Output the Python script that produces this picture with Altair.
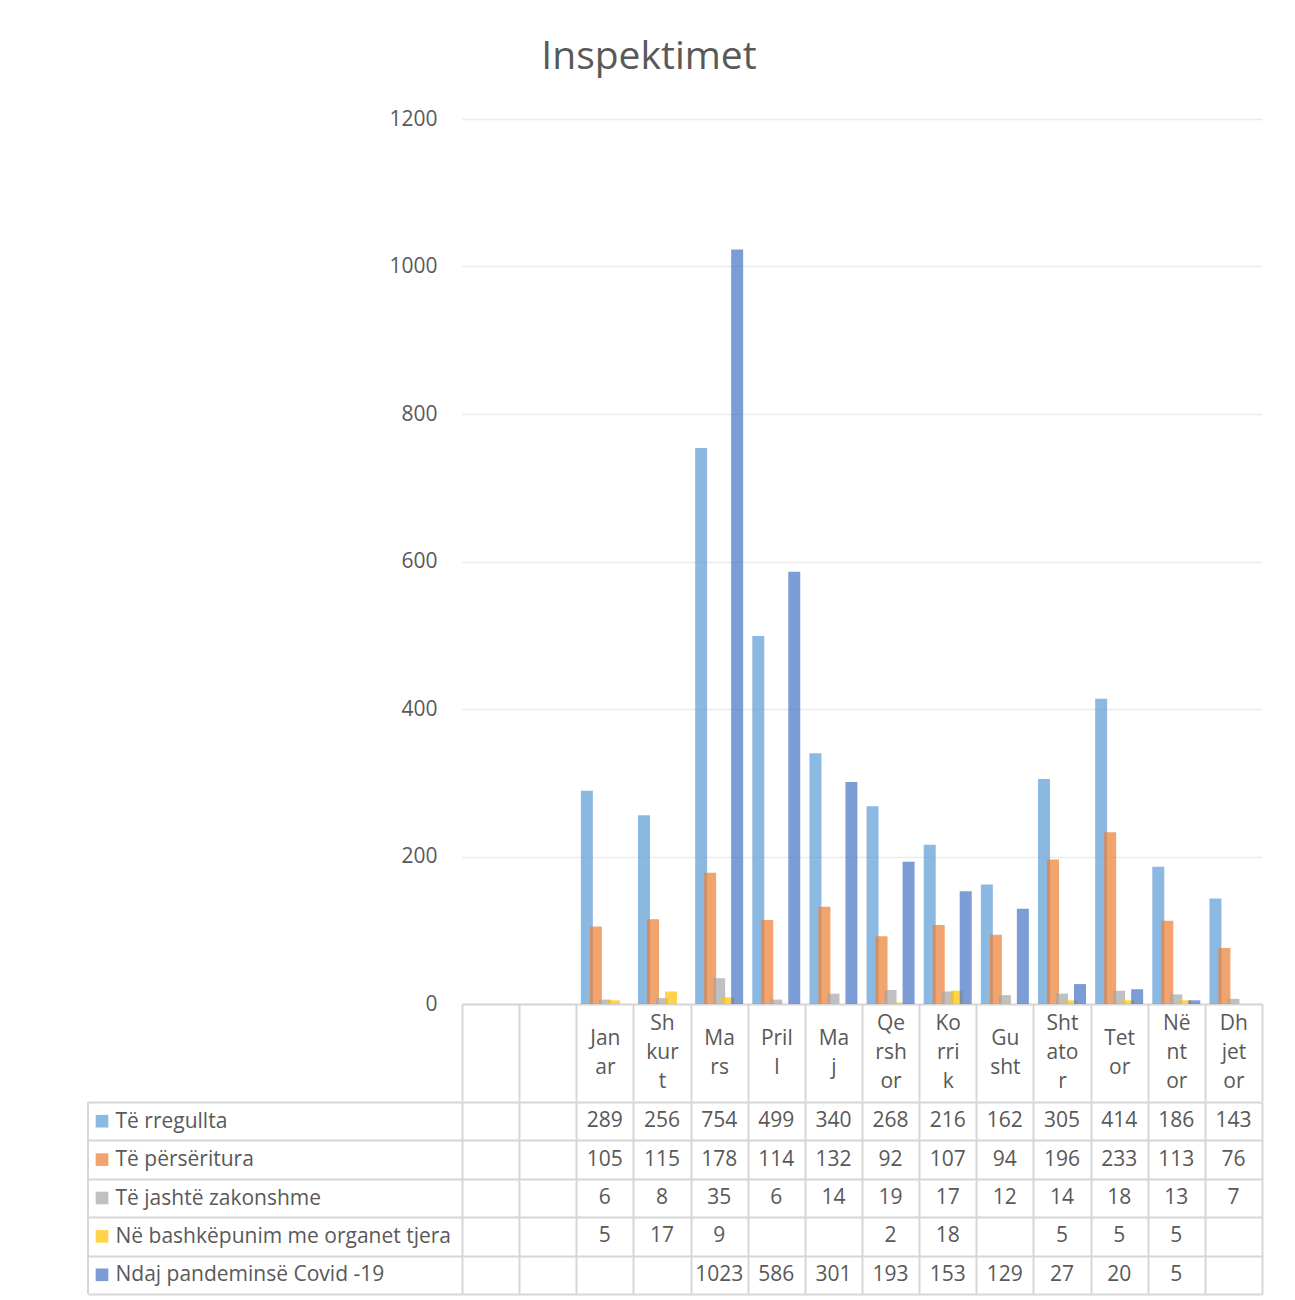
import json
import altair as alt
import pandas as pd

# ---- data ----
categories = [" ", "  ", "Janar", "Shkurt", "Mars", "Prill", "Maj", "Qershor",
              "Korrik", "Gusht", "Shtator", "Tetor", "Nëntor", "Dhjetor"]
header_labels = ["", "", "Jan|ar", "Sh|kur|t", "Ma|rs", "Pril|l", "Ma|j", "Qe|rsh|or",
                 "Ko|rri|k", "Gu|sht", "Sht|ato|r", "Tet|or", "Në|nt|or", "Dh|jet|or"]
months = categories[2:]
series = ["Të rregullta", "Të përsëritura", "Të jashtë zakonshme",
          "Në bashkëpunim me organet tjera", "Ndaj pandeminsë Covid -19"]
te_rregullta = [289, 256, 754, 499, 340, 268, 216, 162, 305, 414, 186, 143]
te_perseritura = [105, 115, 178, 114, 132, 92, 107, 94, 196, 233, 113, 76]
te_jashte = [6, 8, 35, 6, 14, 19, 17, 12, 14, 18, 13, 7]
ne_bashkepunim = [5, 17, 9, None, None, 2, 18, None, 5, 5, 5, None]
covid = [None, None, 1023, 586, 301, 193, 153, 129, 27, 20, 5, None]
y_ticks = [0, 200, 400, 600, 800, 1000, 1200]
colors = ["#5B9BD5", "#ED7D31", "#A5A5A5", "#FFC000", "#4472C4"]

values_by_series = [te_rregullta, te_perseritura, te_jashte, ne_bashkepunim, covid]
rows = []
for s, vals in zip(series, values_by_series):
    for m, v in zip(months, vals):
        if v is not None:
            rows.append({"series": s, "month": m, "value": v})
df = pd.DataFrame(rows)
legend_df = pd.DataFrame({"series": series})

# ---- styles ----
FONT = "Open Sans"
TXT = "#595959"
LINE = "#D6D6D6"
GRID = "#EBEBEB"
FS = 21
PLOT_W = 800
BAND = PLOT_W / len(categories)          # width of one category column
SLOT = 9                                 # offset step per series inside a column
BAR_BAND = 4 / 3                         # bars 4/3 of a slot wide (Excel-style overlap)
# Vega-Lite centres a >1 relative band on the category bandwidth; compensate so that
# the group of bars sits centred in its column as in the reference
GROUP = SLOT * len(series)
SHIFT = (BAND - GROUP) / 2 + (BAR_BAND - 1) / 2 * (BAND - SLOT)

mapping = json.dumps(dict(zip(categories, header_labels)), ensure_ascii=False)
label_expr = "split((" + mapping + ")[datum.value] || '', '|')"
two_line = [c for c, h in zip(categories, header_labels) if h.count("|") == 1]
two_line_test = "indexof(" + json.dumps(two_line, ensure_ascii=False) + ", datum.value) >= 0"

color_scale = alt.Scale(domain=series, range=colors)

bars = alt.Chart(df).mark_bar(opacity=0.7, width=alt.RelativeBandSize(BAR_BAND)).encode(
    x=alt.X("month:N",
            scale=alt.Scale(domain=categories, paddingInner=0, paddingOuter=0),
            axis=alt.Axis(title=None, labelExpr=label_expr, labelAngle=0, labelFontSize=FS,
                          labelColor=TXT, labelFont=FONT, labelLineHeight=29,
                          labelBaseline="middle",
                          labelPadding={"condition": {"test": two_line_test, "value": -63},
                                        "value": -78},
                          labelOverlap=False,
                          tickBand="extent", tickSize=97, tickColor=LINE, tickWidth=2,
                          domainColor=LINE, domainWidth=2, grid=False)),
    xOffset=alt.XOffset("series:N",
                        scale=alt.Scale(domain=series, range=[SHIFT, SHIFT + GROUP],
                                        paddingInner=0, paddingOuter=0)),
    y=alt.Y("value:Q", scale=alt.Scale(domain=[0, 1200], nice=False),
            axis=alt.Axis(title=None, values=y_ticks, format="d", labelFontSize=FS, labelColor=TXT,
                          labelFont=FONT, labelPadding=25, ticks=False, domain=False,
                          gridColor=GRID, gridWidth=1.5)),
    color=alt.Color("series:N", scale=color_scale, legend=None),
).properties(width=PLOT_W, height=885)

table_text = alt.Chart(df).mark_text(fontSize=FS, color=TXT, font=FONT, baseline="middle").encode(
    x=alt.X("month:N", scale=alt.Scale(domain=categories, paddingInner=0, paddingOuter=0),
            axis=alt.Axis(title=None, labels=False, ticks=False, domain=False, grid=True,
                          tickBand="extent", gridColor=LINE, gridWidth=2)),
    y=alt.Y("series:N", scale=alt.Scale(domain=series, paddingInner=0, paddingOuter=0),
            axis=alt.Axis(title=None, grid=True, tickBand="extent", gridColor=LINE, gridWidth=2,
                          ticks=True, tickSize=374, tickColor=LINE, tickWidth=2, domain=False,
                          labelAlign="left", labelBaseline="middle", labelPadding=-27,
                          labelFontSize=FS, labelColor=TXT, labelFont=FONT, labelLimit=400)),
    text=alt.Text("value:Q"),
)

table_keys = alt.Chart(legend_df).mark_square(size=160, opacity=0.7).encode(
    x=alt.value(-360),
    y=alt.Y("series:N"),
    color=alt.Color("series:N", scale=color_scale, legend=None),
)

table_border = alt.Chart(legend_df).mark_rule(color=LINE, strokeWidth=2).encode(
    x=alt.value(-374), y=alt.value(0), y2=alt.value(192)
)

table = alt.layer(table_text, table_keys, table_border).properties(width=PLOT_W, height=192)

chart = alt.vconcat(bars, table, spacing=-14).properties(
    title=alt.TitleParams("Inspektimet", fontSize=39, font=FONT, fontWeight="normal",
                          color=TXT, anchor="middle", offset=31, dx=-26),
    padding={"left": 79, "top": 30, "right": 10, "bottom": 5},
).configure(font=FONT).configure_view(stroke=None)

chart.save("out.html", embed_options={"renderer": "svg", "actions": False})
